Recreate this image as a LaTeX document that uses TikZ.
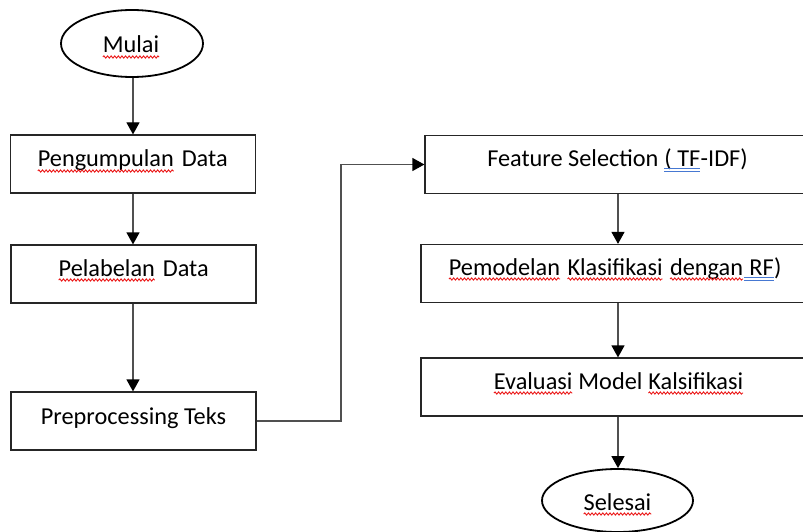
\documentclass[tikz,border=0pt]{standalone}
\usepackage{fontspec}
\setmainfont{Carlito}
\usetikzlibrary{arrows.meta,shapes.geometric,decorations.pathmorphing}
\definecolor{spellred}{RGB}{235,25,25}
\definecolor{gramblue}{RGB}{70,120,210}
\definecolor{linegray}{RGB}{80,80,80}
\tikzset{
  box/.style={draw=black!85,line width=1.2pt,minimum width=245pt,minimum height=58pt,inner sep=0pt},
  rbox/.style={box,minimum width=391pt},
  term/.style={draw=black,line width=1.8pt,ellipse,inner sep=0pt},
  lbl/.style={anchor=base,inner sep=0pt,font=\fontsize{24.3}{29}\selectfont},
  conn/.style={draw=linegray,line width=1.2pt,-{Triangle[width=13pt,length=12pt,color=black]}},
}
\newcommand\wavyu[1]{\tikz[baseline=(w.base)]{\node[inner sep=0pt,outer sep=0pt,anchor=base](w){#1};\draw[spellred,line width=0.9pt,decorate,decoration={snake,amplitude=1.1pt,segment length=3.6pt}]([yshift=-4pt]w.base west)--([yshift=-4pt]w.base east);}}
\newcommand\dblu[1]{\tikz[baseline=(w.base)]{\node[inner sep=0pt,outer sep=0pt,anchor=base](w){#1};\draw[gramblue,line width=0.8pt]([yshift=-2.5pt]w.base west)--([yshift=-2.5pt]w.base east) ([yshift=-5.5pt]w.base west)--([yshift=-5.5pt]w.base east);}}
\begin{document}
\begin{tikzpicture}[x=1pt,y=-1pt]
\useasboundingbox (0,0) rectangle (803,532);
\clip (0,0) rectangle (803,532);
% left column
\node[term,minimum width=142pt,minimum height=67pt] (mulai) at (132,43.5) {};
\node[lbl] (tm) at (131,53) {\wavyu{Mulai}};
\node[box] (b1) at (133,164) {};
\node[lbl] (t1) at (132.5,167) {\wavyu{Pengumpulan}\hspace{2pt} Data};
\node[box] (b2) at (133.5,274) {};
\node[lbl] (t2) at (133.5,276) {\wavyu{Pelabelan}\hspace{2pt} Data};
\node[box] (b3) at (133.5,421) {};
\node[lbl] (t3) at (133.5,424) {Preprocessing Teks};
% right column
\node[rbox,minimum width=387pt] (b4) at (618.5,164.5) {};
\node[lbl] (t4) at (617.5,166) {Feature Selection \dblu{( TF}-IDF)};
\node[rbox] (b5) at (616.5,273.5) {};
\node[lbl] (t5) at (615,275) {\wavyu{Pemodelan}\hspace{1pt} \wavyu{Klasifikasi}\hspace{1pt} \wavyu{dengan}\dblu{\ RF})};
\node[rbox] (b6) at (616.5,387) {};
\node[lbl] (t6) at (618.5,389) {\wavyu{Evaluasi} Model \wavyu{Kalsifikasi}};
\node[term,minimum width=151pt,minimum height=63pt] (selesai) at (617.5,500.5) {};
\node[lbl] (t7) at (617.5,510) {\wavyu{Selesai}};
% helper coordinates
\coordinate (lx) at (133,0);
\coordinate (rx) at (618,0);
\coordinate (bend) at (341,0);
% connectors
\draw[conn] (mulai.south -| lx) -- (b1.north -| lx);
\draw[conn] (b1.south -| lx) -- (b2.north -| lx);
\draw[conn] (b2.south -| lx) -- (b3.north -| lx);
\draw[conn] (b3.east) -- (b3.east -| bend) |- (b4.west);
\draw[conn] (b4.south -| rx) -- (b5.north -| rx);
\draw[conn] (b5.south -| rx) -- (b6.north -| rx);
\draw[conn] (b6.south -| rx) -- (selesai.north -| rx);
\end{tikzpicture}
\end{document}
